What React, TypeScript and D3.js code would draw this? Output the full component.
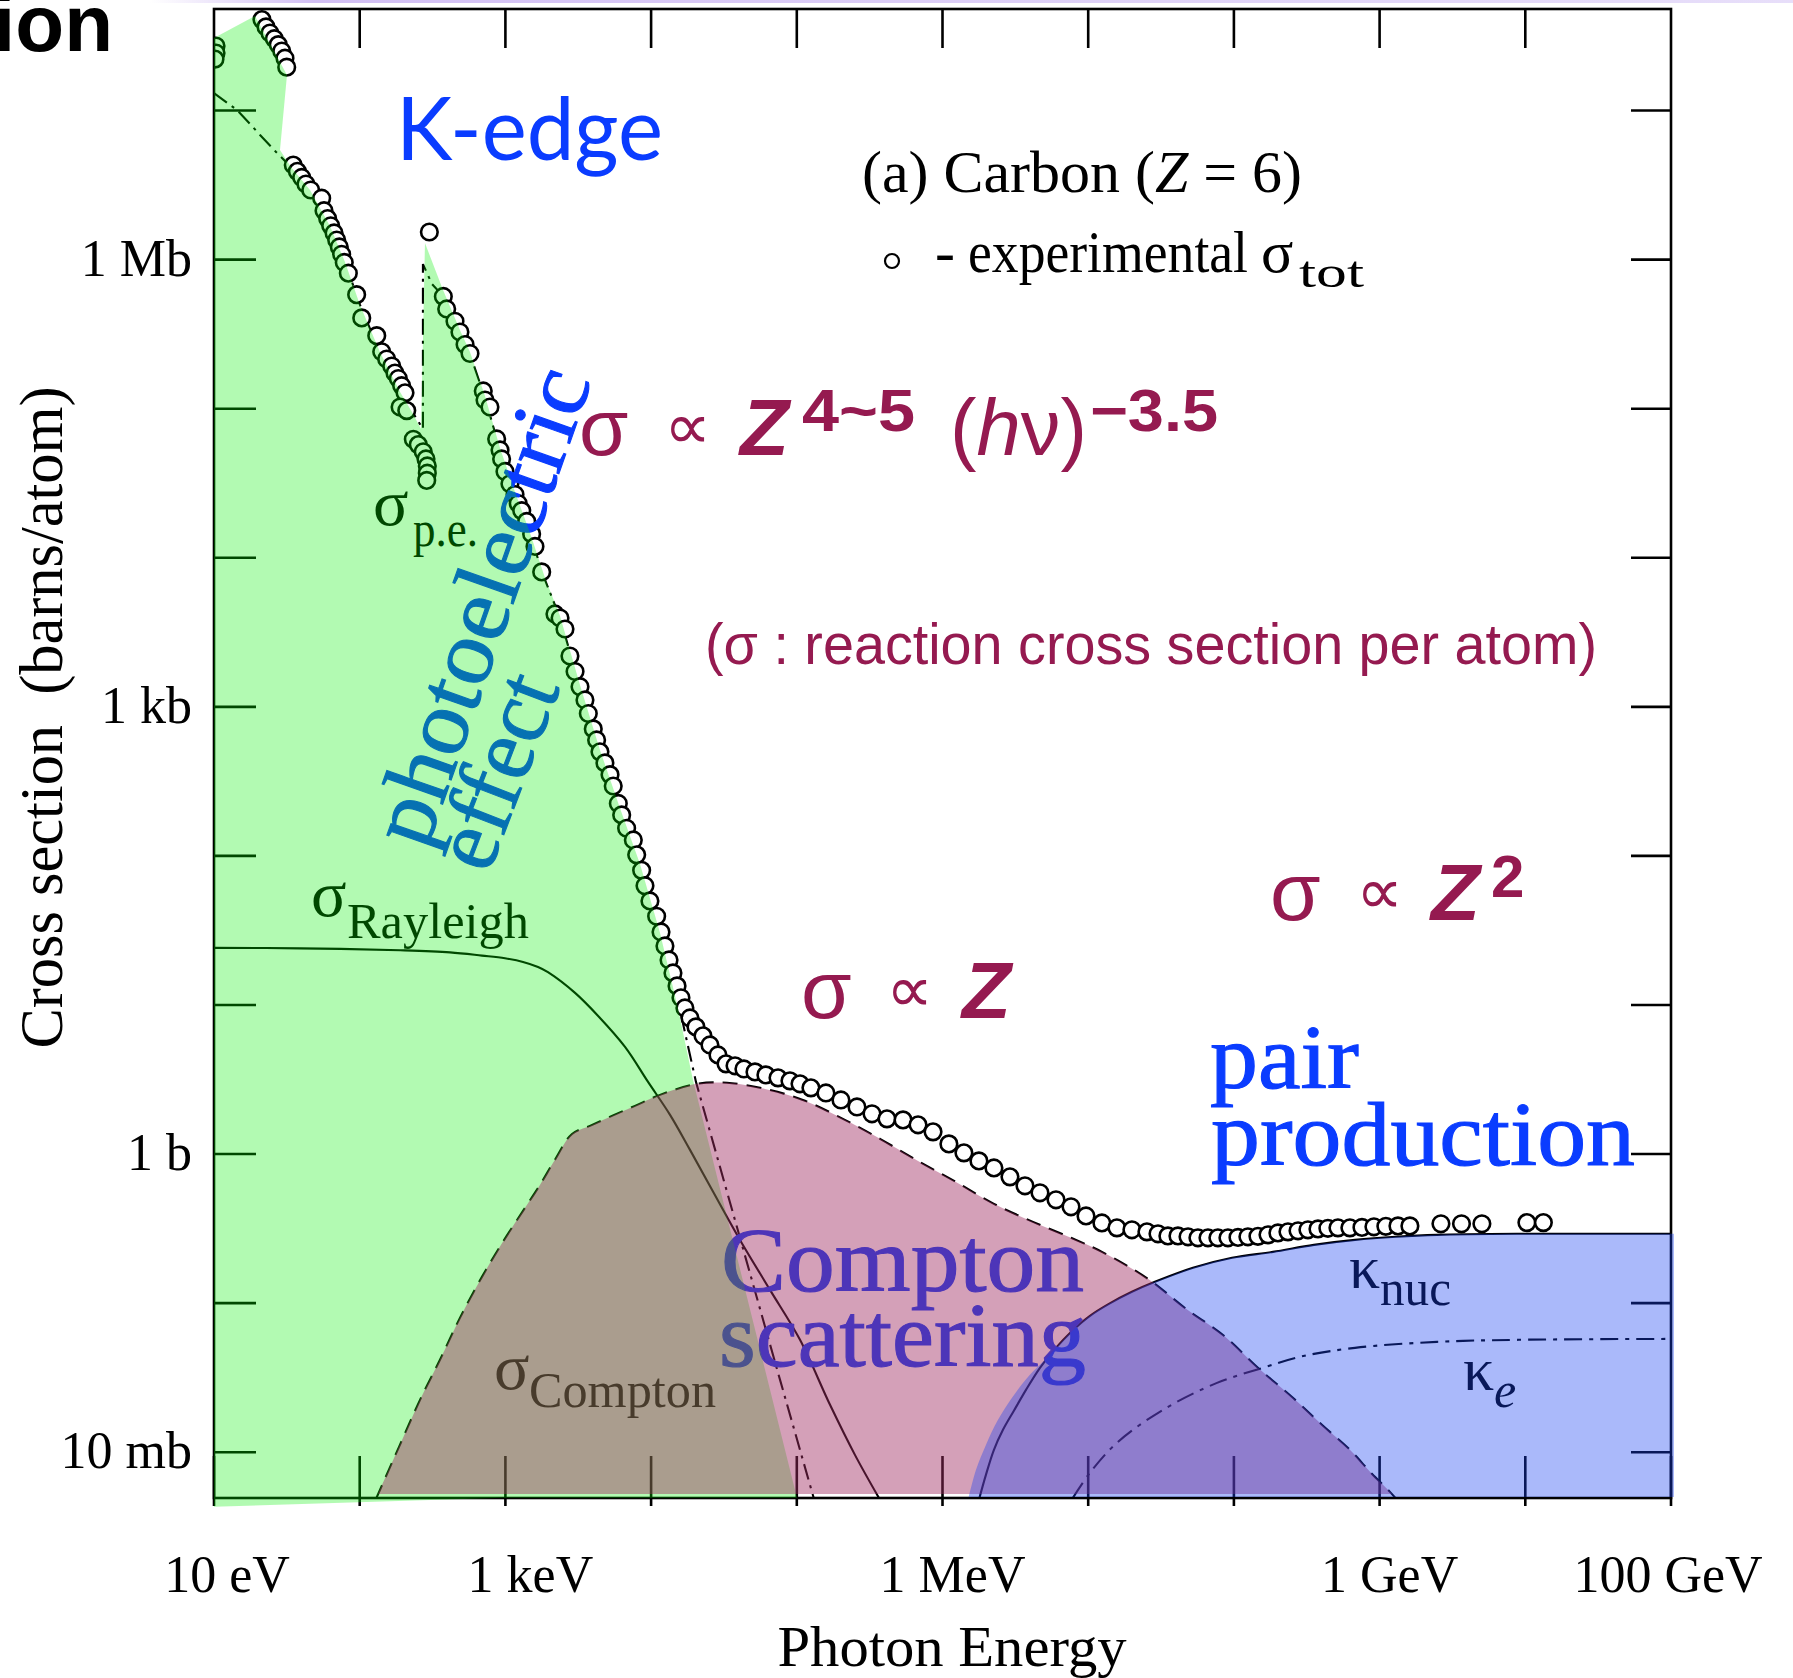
import React from "react";
import * as d3 from "d3";

type Pt = [number, number];

// every pair: [log10(photon energy / eV), log10(cross section / barn)]
const expSigmaTot: Pt[] = [
  [1.014, 7.433], [1.014, 7.386], [1.007, 7.345],
  [1.329, 7.61], [1.357, 7.561], [1.384, 7.52], [1.414, 7.482], [1.441, 7.442], [1.465, 7.399], [1.487, 7.351], [1.499, 7.291],
  [1.544, 6.634], [1.572, 6.592], [1.602, 6.551], [1.631, 6.507], [1.664, 6.467], [1.739, 6.412], [1.755, 6.328], [1.78, 6.275],
  [1.801, 6.227], [1.824, 6.179], [1.842, 6.131], [1.86, 6.085], [1.876, 6.036], [1.894, 5.981], [1.922, 5.909], [1.979, 5.765],
  [2.014, 5.609], [2.117, 5.49], [2.151, 5.382], [2.185, 5.333], [2.22, 5.286], [2.242, 5.239], [2.265, 5.202], [2.288, 5.154],
  [2.311, 5.106], [2.277, 5.011], [2.323, 4.987], [2.368, 4.795], [2.402, 4.759], [2.436, 4.711], [2.455, 4.663], [2.464, 4.616],
  [2.464, 4.567], [2.46, 4.519],
  [2.478, 6.185],
  [2.574, 5.753], [2.597, 5.669], [2.654, 5.586], [2.688, 5.514], [2.723, 5.43], [2.757, 5.37], [2.848, 5.119], [2.86, 5.058],
  [2.894, 5.011], [2.94, 4.797], [2.963, 4.723], [2.974, 4.663], [2.997, 4.579], [3.031, 4.496], [3.066, 4.424], [3.088, 4.364],
  [3.112, 4.316], [3.146, 4.244], [3.18, 4.16], [3.203, 4.076], [3.249, 3.905], [3.34, 3.623], [3.375, 3.596], [3.409, 3.522],
  [3.443, 3.341], [3.478, 3.237], [3.512, 3.135], [3.546, 3.046], [3.569, 2.955], [3.603, 2.852], [3.626, 2.778], [3.649, 2.698],
  [3.683, 2.624], [3.718, 2.545], [3.74, 2.469], [3.775, 2.352], [3.798, 2.275], [3.832, 2.185], [3.878, 2.107], [3.901, 2.007],
  [3.935, 1.903], [3.958, 1.8], [3.992, 1.698], [4.038, 1.595], [4.068, 1.49], [4.095, 1.396], [4.123, 1.302], [4.15, 1.215],
  [4.178, 1.128], [4.205, 1.048], [4.232, 0.98], [4.267, 0.913], [4.308, 0.853], [4.356, 0.793], [4.404, 0.732], [4.459, 0.665],
  [4.514, 0.605], [4.576, 0.592], [4.637, 0.571], [4.713, 0.551], [4.788, 0.531], [4.871, 0.511], [4.953, 0.491], [5.022, 0.471],
  [5.097, 0.444], [5.2, 0.41], [5.303, 0.363], [5.413, 0.316], [5.516, 0.27], [5.619, 0.236], [5.729, 0.229], [5.832, 0.196],
  [5.935, 0.149], [6.044, 0.068], [6.147, 0.008], [6.25, -0.046], [6.353, -0.093], [6.463, -0.153], [6.566, -0.213], [6.669, -0.26],
  [6.779, -0.307], [6.882, -0.354], [6.985, -0.415], [7.094, -0.462], [7.197, -0.495], [7.3, -0.508], [7.403, -0.522],
  [7.479, -0.535], [7.547, -0.549], [7.616, -0.549], [7.685, -0.555], [7.753, -0.562], [7.822, -0.562], [7.89, -0.562],
  [7.959, -0.562], [8.028, -0.559], [8.096, -0.555], [8.165, -0.552], [8.234, -0.542], [8.302, -0.529], [8.371, -0.522],
  [8.44, -0.515], [8.508, -0.508], [8.577, -0.502], [8.645, -0.498], [8.714, -0.495], [8.796, -0.495], [8.879, -0.492],
  [8.961, -0.488], [9.043, -0.485], [9.126, -0.482], [9.208, -0.482],
  [9.421, -0.468], [9.562, -0.468], [9.702, -0.468], [10.011, -0.46], [10.124, -0.46],
];

const sigmaPE: Pt[] = [
  [1.0, 7.117], [1.158, 7.003], [1.254, 6.903], [1.316, 6.836], [1.426, 6.722], [1.528, 6.621], [1.659, 6.467], [1.796, 6.225],
  [1.899, 5.984], [2.002, 5.696], [2.139, 5.38], [2.277, 5.112], [2.434, 4.864], [2.434, 5.97], [2.496, 5.836], [2.572, 5.756],
  [2.688, 5.514], [2.757, 5.367], [2.86, 5.072], [2.963, 4.723], [3.066, 4.428], [3.169, 4.153], [3.272, 3.851], [3.375, 3.596],
  [3.512, 3.133], [3.649, 2.698], [3.786, 2.309], [3.924, 1.933], [4.061, 1.47], [4.198, 0.967], [4.308, 0.484], [4.61, -0.562],
  [4.885, -1.515], [5.159, -2.454],
];

const photoFill: Pt[] = [
  [1.0, -2.366], [1.0, 7.486], [1.281, 7.634], [1.501, 7.238], [1.453, 6.735], [1.528, 6.621], [1.659, 6.467], [1.796, 6.225],
  [1.899, 5.984], [2.002, 5.696], [2.139, 5.38], [2.277, 5.112], [2.359, 4.978], [2.421, 4.864], [2.448, 6.111], [2.572, 5.796],
  [2.688, 5.528], [2.757, 5.38], [2.86, 5.085], [2.963, 4.736], [3.066, 4.441], [3.169, 4.166], [3.272, 3.865], [3.375, 3.61],
  [3.512, 3.147], [3.649, 2.711], [3.786, 2.322], [3.924, 1.946], [4.061, 1.484], [4.184, 0.98], [4.287, 0.498], [5.001, -2.306],
  [2.983, -2.306],
];

const sigmaRayleigh: Pt[] = [
  [1.0, 1.383], [1.59, 1.38], [2.277, 1.367], [2.62, 1.353], [2.839, 1.331], [2.997, 1.313], [3.121, 1.289], [3.224, 1.255],
  [3.292, 1.22], [3.478, 1.081], [3.635, 0.928], [3.821, 0.719], [3.979, 0.484], [4.13, 0.263], [4.267, 0.028], [4.418, -0.24],
  [4.61, -0.576], [4.816, -0.911], [5.022, -1.246], [5.228, -1.682], [5.399, -2.018], [5.571, -2.319],
];

const sigmaCompton: Pt[] = [
  [2.112, -2.313], [2.27, -1.964], [2.414, -1.649], [2.551, -1.38], [2.688, -1.099], [2.839, -0.824], [2.983, -0.589],
  [3.121, -0.381], [3.237, -0.207], [3.34, -0.039], [3.457, 0.135], [3.58, 0.189], [3.731, 0.256], [3.889, 0.323], [4.061, 0.397],
  [4.315, 0.471], [4.521, 0.478], [4.782, 0.437], [5.042, 0.363], [5.303, 0.243], [5.571, 0.102], [5.832, -0.046], [6.092, -0.187],
  [6.353, -0.334], [6.621, -0.455], [6.882, -0.562], [7.094, -0.656], [7.41, -0.837], [7.671, -1.038], [7.932, -1.219],
  [8.165, -1.434], [8.405, -1.635], [8.604, -1.816], [8.796, -1.984], [8.947, -2.145], [9.071, -2.266], [9.208, -2.42],
];

const kappaNuc: Pt[] = [
  [6.25, -2.319], [6.298, -2.152], [6.353, -1.984], [6.415, -1.85], [6.49, -1.722], [6.573, -1.582], [6.669, -1.434],
  [6.772, -1.307], [6.882, -1.193], [7.012, -1.085], [7.142, -1.005], [7.3, -0.924], [7.458, -0.857], [7.719, -0.763],
  [7.987, -0.696], [8.268, -0.656], [8.549, -0.609], [8.831, -0.576], [9.112, -0.555], [9.393, -0.542], [9.956, -0.535],
  [10.512, -0.535], [11.0, -0.535],
];

const kappaNucFill: Pt[] = [
  [6.175, -2.319], [6.23, -2.118], [6.298, -1.951], [6.381, -1.783], [6.477, -1.635], [6.6, -1.481], [6.703, -1.38],
  [6.772, -1.307], [6.882, -1.193], [7.012, -1.085], [7.142, -1.005], [7.3, -0.924], [7.458, -0.857], [7.719, -0.763],
  [7.987, -0.696], [8.268, -0.656], [8.549, -0.609], [8.831, -0.576], [9.112, -0.555], [9.393, -0.542], [9.956, -0.535],
  [10.512, -0.535], [11.05, -0.535],
];

const kappaE: Pt[] = [
  [6.895, -2.306], [7.012, -2.138], [7.197, -1.937], [7.513, -1.716], [7.884, -1.535], [8.199, -1.434], [8.453, -1.36],
  [8.831, -1.3], [9.393, -1.26], [9.956, -1.246], [11.0, -1.24],
];

const xTickExps = [1, 2, 3, 4, 5, 6, 7, 8, 9, 10, 11];
const yTickExps = [-2, -1, 0, 1, 2, 3, 4, 5, 6, 7];
const xLabelExps = [1, 3, 6, 9, 11];
const xLabelTexts = ["10 eV", "1 keV", "1 MeV", "1 GeV", "100 GeV"];
const yLabelExps = [6, 3, 0, -2];
const yLabelTexts = ["1 Mb", "1 kb", "1 b", "10 mb"];

const W = 1793;
const H = 1678;
const L = 214, R = 1671, T = 9, B = 1498;

const SERIF = "'Liberation Serif', 'Times New Roman', serif";
const SANS = "'Liberation Sans', Arial, sans-serif";
const BLUE = "#0a3cff";
const MAROON = "#951a50";

// label centres sit a little off their ticks in the original
const xLabelNudge = [13, 25, 10, 10, -3];

export default function App() {
  const x = d3.scaleLog().domain([1e1, 1e11]).range([L, R]);
  const y = d3.scaleLog().domain([1e-2, 1e6]).range([1452.2, 259.6]);
  const px = (d: Pt) => x(Math.pow(10, d[0]));
  const py = (d: Pt) => y(Math.pow(10, d[1]));

  const straight = d3.line<Pt>().x(px).y(py);
  const smooth = d3.line<Pt>().x(px).y(py).curve(d3.curveCatmullRom.alpha(0.5));
  const closed = d3.line<Pt>().x(px).y(py).curve(d3.curveLinearClosed);
  const floor = y(Math.pow(10, -2.6));
  const under = d3.area<Pt>().x(px).y0(floor).y1(py).curve(d3.curveCatmullRom.alpha(0.5));

  return (
    <svg width={W} height={H} style={{ position: "absolute", left: 0, top: 0, background: "#fff" }}>
      <defs>
        <clipPath id="plotClip">
          <rect x={L} y={T} width={R - L} height={B - T} />
        </clipPath>
        <clipPath id="pinkClip">
          <rect x={L} y={T} width={R - L} height={1494 - T} />
        </clipPath>
        <clipPath id="blueClip">
          <rect x={L} y={T} width={1674 - L} height={1497 - T} />
        </clipPath>
        <linearGradient id="topBand" x1="0" x2="1" y1="0" y2="0">
          <stop offset="0" stopColor="#cdb8f2" stopOpacity={0} />
          <stop offset="0.1" stopColor="#cdb8f2" stopOpacity={0.9} />
          <stop offset="1" stopColor="#ddd0f7" stopOpacity={0.7} />
        </linearGradient>
      </defs>
      <rect x={0} y={0} width={W} height={H} fill="#fff" />
      <rect x={150} y={0} width={W - 150} height={3} fill="url(#topBand)" />
      <text x={113} y={51} textAnchor="end" fontFamily={SANS} fontWeight="bold" fontSize={80} fill="#000">ion</text>

      {/* theory curves and measured points */}
      <g clipPath="url(#plotClip)" fill="none" stroke="#000" strokeWidth={2.1}>
        <path d={straight(sigmaPE) || ""} strokeDasharray="16 6 3 6" />
        <path d={smooth(sigmaRayleigh) || ""} />
        <path d={smooth(sigmaCompton) || ""} strokeDasharray="15 9" />
        <path d={smooth(kappaNuc) || ""} />
        <path d={smooth(kappaE) || ""} strokeDasharray="18 7 4 7" />
        {expSigmaTot.map((d, i) => (
          <circle key={i} cx={px(d)} cy={py(d)} r={8.3} fill="#fff" stroke="#000" strokeWidth={2.6} />
        ))}
      </g>

      {/* labels that sit under the coloured regions */}
      <g fontFamily={SERIF} fill="#000">
        <text x={373} y={525} fontSize={66}>σ</text>
        <text x={413} y={546} fontSize={50} textLength={65} lengthAdjust="spacingAndGlyphs">p.e.</text>
        <text x={311} y={916} fontSize={66}>σ</text>
        <text x={347} y={938} fontSize={50} textLength={182} lengthAdjust="spacingAndGlyphs">Rayleigh</text>
        <text x={494} y={1389} fontSize={66}>σ</text>
        <text x={529} y={1407} fontSize={50} textLength={187} lengthAdjust="spacingAndGlyphs">Compton</text>
        <text x={1349} y={1288} fontSize={62}>κ</text>
        <text x={1380} y={1305} fontSize={50} textLength={71} lengthAdjust="spacingAndGlyphs">nuc</text>
        <text x={1463} y={1390} fontSize={62}>κ</text>
        <text x={1494} y={1407} fontSize={50} fontStyle="italic">e</text>
      </g>
      <g fontFamily={SERIF} fill={BLUE} stroke={BLUE} strokeWidth={1.1}>
        <text transform="translate(489.5,609) rotate(-70.6)" textAnchor="middle" dy="0.224em" fontSize={92}
          textLength={499} lengthAdjust="spacingAndGlyphs">photoelectric</text>
        <text transform="translate(505,774) rotate(-69)" textAnchor="middle" dy="0.224em" fontSize={92}
          textLength={201} lengthAdjust="spacingAndGlyphs">effect</text>
        <text x={721} y={1291} fontSize={90} textLength={363} lengthAdjust="spacingAndGlyphs">Compton</text>
        <text x={719} y={1366} fontSize={90} textLength={367} lengthAdjust="spacingAndGlyphs">scattering</text>
        <text x={1210} y={1088} fontSize={90} textLength={149} lengthAdjust="spacingAndGlyphs">pair</text>
        <text x={1211} y={1165} fontSize={90} textLength={424} lengthAdjust="spacingAndGlyphs">production</text>
      </g>
      <text x={396} y={160} fontFamily="Lato, 'Open Sans', sans-serif" fontSize={88} fill={BLUE}
        textLength={267} lengthAdjust="spacingAndGlyphs">K-edge</text>

      {/* frame and ticks */}
      <g stroke="#000" strokeWidth={2.6} fill="none">
        <rect x={L} y={T} width={R - L} height={B - T} />
        {xTickExps.slice(1, -1).map((e) => (
          <line key={"t" + e} x1={x(Math.pow(10, e))} x2={x(Math.pow(10, e))} y1={T} y2={T + 39} />
        ))}
        {xTickExps.map((e) => (
          <line key={"b" + e} x1={x(Math.pow(10, e))} x2={x(Math.pow(10, e))} y1={B + 8} y2={B - 42} />
        ))}
        {yTickExps.map((e) => (
          <line key={"l" + e} x1={L} x2={L + 42} y1={y(Math.pow(10, e))} y2={y(Math.pow(10, e))} />
        ))}
        {yTickExps.map((e) => (
          <line key={"r" + e} x1={R} x2={R - 40} y1={y(Math.pow(10, e))} y2={y(Math.pow(10, e))} />
        ))}
      </g>

      {/* translucent regions laid over everything above */}
      <path d={closed(photoFill) || ""} fill="#00ee00" fillOpacity={0.3} />
      <path d={under(sigmaCompton) || ""} fill="#9f2c61" fillOpacity={0.45} clipPath="url(#pinkClip)" />
      <path d={under(kappaNucFill) || ""} fill="#1942f1" fillOpacity={0.37} clipPath="url(#blueClip)" />

      {/* proportionality notes */}
      <g fontFamily={SANS} fill={MAROON}>
        <text x={579} y={455} fontSize={80}>σ</text>
        <text x={664} y={449} fontSize={66} fontFamily="'DejaVu Sans', sans-serif">∝</text>
        <text x={740} y={455} fontSize={80} fontWeight="bold" fontStyle="italic">Z</text>
        <text x={802} y={431} fontSize={60} fontWeight="bold" textLength={113} lengthAdjust="spacingAndGlyphs">4~5</text>
        <text x={950} y={455} fontSize={80} textLength={137} lengthAdjust="spacingAndGlyphs">(<tspan fontStyle="italic">h</tspan>ν)</text>
        <text x={1090} y={431} fontSize={60} fontWeight="bold" textLength={128} lengthAdjust="spacingAndGlyphs">−3.5</text>

        <text x={705} y={664} fontSize={57} textLength={892} lengthAdjust="spacingAndGlyphs">(σ : reaction cross section per atom)</text>

        <text x={801} y={1018} fontSize={82}>σ</text>
        <text x={886} y={1012} fontSize={66} fontFamily="'DejaVu Sans', sans-serif">∝</text>
        <text x={962} y={1018} fontSize={80} fontWeight="bold" fontStyle="italic">Z</text>

        <text x={1270} y={920} fontSize={82}>σ</text>
        <text x={1356} y={914} fontSize={66} fontFamily="'DejaVu Sans', sans-serif">∝</text>
        <text x={1431} y={920} fontSize={80} fontWeight="bold" fontStyle="italic">Z</text>
        <text x={1491} y={897} fontSize={60} fontWeight="bold">2</text>
      </g>

      {/* legend */}
      <g fontFamily={SERIF} fill="#000">
        <text x={862} y={192} fontSize={60} textLength={440} lengthAdjust="spacingAndGlyphs">
          (a) Carbon (<tspan fontStyle="italic">Z</tspan> = 6)
        </text>
        <circle cx={892} cy={261} r={7} fill="#fff" stroke="#000" strokeWidth={2.2} />
        <text x={935} y={272} fontSize={60}>-</text>
        <text x={968} y={272} fontSize={60} textLength={280} lengthAdjust="spacingAndGlyphs">experimental</text>
        <text x={1261} y={272} fontSize={60}>σ</text>
        <text x={1299} y={287} fontSize={44} textLength={65} lengthAdjust="spacingAndGlyphs">tot</text>
      </g>

      {/* axis labels */}
      <g fontFamily={SERIF} fill="#000" fontSize={52}>
        {xLabelExps.map((e, i) => (
          <text key={e} x={x(Math.pow(10, e)) + xLabelNudge[i]} y={1592} textAnchor="middle">{xLabelTexts[i]}</text>
        ))}
        {yLabelExps.map((e, i) => (
          <text key={e} x={192} y={y(Math.pow(10, e)) + 16} textAnchor="end">{yLabelTexts[i]}</text>
        ))}
      </g>
      <text x={952} y={1666} textAnchor="middle" fontFamily={SERIF} fontSize={58} textLength={349}
        lengthAdjust="spacingAndGlyphs">Photon Energy</text>
      <text transform="translate(62,717.5) rotate(-90)" textAnchor="middle" fontFamily={SERIF} fontSize={62}
        textLength={662} lengthAdjust="spacingAndGlyphs" style={{ whiteSpace: "pre" }}>Cross section  (barns/atom)</text>
    </svg>
  );
}
